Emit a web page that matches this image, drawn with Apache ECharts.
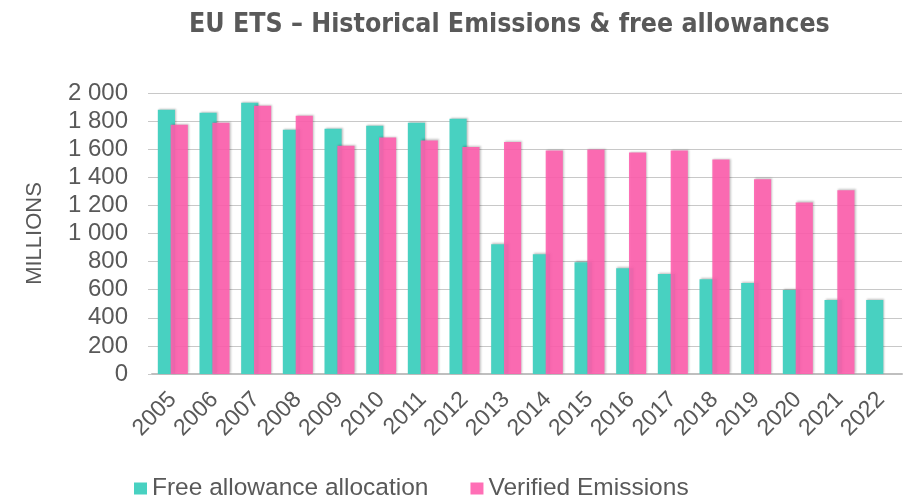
<!DOCTYPE html>
<html><head><meta charset="utf-8">
<script src="https://cdn.jsdelivr.net/npm/echarts@6/dist/echarts.min.js"></script>
<style>html,body{margin:0;padding:0;background:#fff}#c{width:903px;height:497px}</style>
</head><body><div id="c"></div>
<script>
var years = ['2005','2006','2007','2008','2009','2010','2011','2012','2013','2014','2015','2016','2017','2018','2019','2020','2021','2022'];
var freeAllowance = [1881,1859,1931,1738,1745,1767,1788,1816,924,852,795,752,712,674,648,598,526,526];
var verifiedEmissions = [1774,1788,1909,1838,1624,1683,1662,1616,1652,1590,1597,1576,1590,1526,1386,1221,1307,null];
var titleText = 'EU ETS – Historical Emissions & free allowances';
var yName = 'MILLIONS';
var seriesNames = ['Free allowance allocation','Verified Emissions'];

var chart = echarts.init(document.getElementById('c'));
var txt = '#595959';
chart.setOption({
  animation:false,
  title:{text:titleText,left:184,top:7,textStyle:{fontFamily:'DejaVu Sans Condensed',fontWeight:'bold',fontSize:26.5,color:txt}},
  legend:{top:471,left:129,itemWidth:13,itemHeight:12,itemGap:42,icon:'rect',
    textStyle:{fontFamily:'Liberation Sans',fontSize:24.5,color:txt},data:seriesNames},
  grid:{left:152,right:1,top:93,bottom:123,containLabel:false},
  xAxis:{type:'category',data:years,
    axisLine:{lineStyle:{color:'#bfbfbf',width:2}},axisTick:{show:false},
    axisLabel:{rotate:45,fontFamily:'Liberation Sans',fontSize:23,color:txt,margin:22,interval:0}},
  yAxis:{type:'value',min:0,max:2000,interval:200,name:yName,nameLocation:'middle',nameGap:106,
    nameTextStyle:{fontFamily:'Liberation Sans',fontSize:22,color:txt},
    axisLine:{show:false},axisTick:{show:true,length:4,lineStyle:{color:'#c8c8c8'}},
    splitLine:{lineStyle:{color:'#c8c8c8',width:1}},
    axisLabel:{fontFamily:'Liberation Sans',fontSize:24,color:txt,margin:24,
      formatter:function(v){return String(v).replace(/\B(?=(\d{3})+(?!\d))/g,' ');}}},
  series:[
    {name:seriesNames[0],type:'bar',data:freeAllowance,barCategoryGap:'28%',barGap:'-25%',
      itemStyle:{color:'#48D1C1',shadowColor:'rgba(0,0,0,0.25)',shadowBlur:2,shadowOffsetX:1,shadowOffsetY:-1}},
    {name:seriesNames[1],type:'bar',data:verifiedEmissions,barCategoryGap:'28%',barGap:'-25%',
      itemStyle:{color:'#FF5FAE',opacity:0.9,shadowColor:'rgba(0,0,0,0.25)',shadowBlur:2,shadowOffsetX:1,shadowOffsetY:-1}}
  ]
});
</script></body></html>
